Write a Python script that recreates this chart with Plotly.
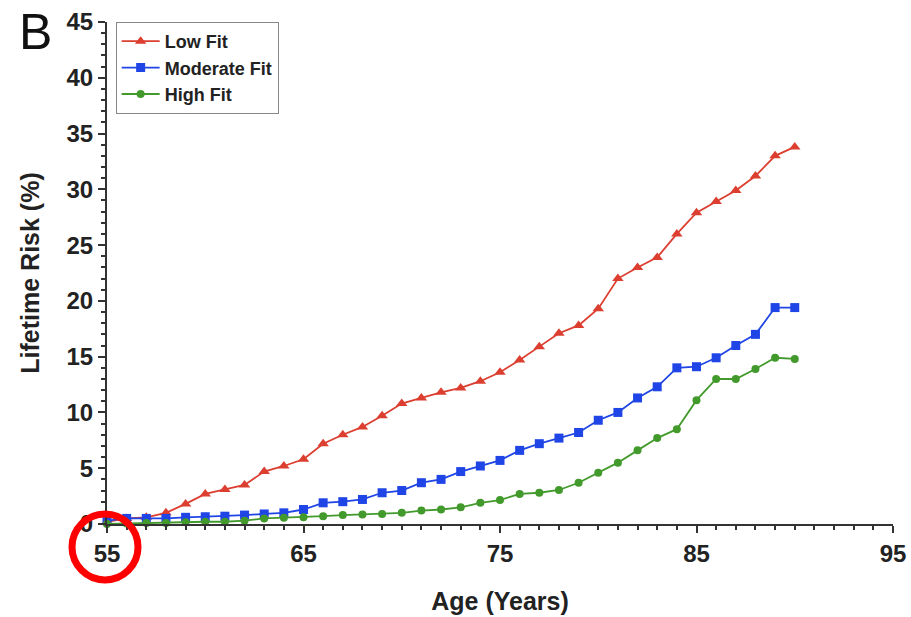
import plotly.graph_objects as go

ages = list(range(55, 91))
low_fit = [0.2, 0.5, 0.6, 1.0, 1.8, 2.7, 3.1, 3.5, 4.7, 5.2, 5.8, 7.2, 8.0, 8.7, 9.7, 10.8, 11.3, 11.8,
           12.2, 12.8, 13.6, 14.7, 15.9, 17.1, 17.8, 19.3, 22.0, 23.0, 23.9, 26.0, 27.9, 28.9, 29.9,
           31.2, 33.0, 33.8]
moderate_fit = [0.3, 0.5, 0.5, 0.5, 0.6, 0.65, 0.7, 0.8, 0.9, 1.0, 1.3, 1.9, 2.0, 2.2, 2.8, 3.0, 3.7,
                4.0, 4.7, 5.2, 5.7, 6.6, 7.2, 7.7, 8.2, 9.3, 10.0, 11.3, 12.3, 14.0, 14.1, 14.9, 16.0,
                17.0, 19.4, 19.4]
high_fit = [0.0, 0.05, 0.1, 0.1, 0.15, 0.2, 0.2, 0.3, 0.5, 0.55, 0.6, 0.7, 0.8, 0.85, 0.9, 1.0, 1.2,
            1.3, 1.5, 1.9, 2.15, 2.7, 2.8, 3.05, 3.7, 4.6, 5.5, 6.6, 7.7, 8.5, 11.1, 13.0, 13.0, 13.9,
            14.9, 14.8]

series = [
    ("Low Fit", low_fit, "#dc3e30", "triangle-up", 10),
    ("Moderate Fit", moderate_fit, "#1f45e6", "square", 9),
    ("High Fit", high_fit, "#439a2c", "circle", 8),
]

FONT = "Liberation Sans, Arial, sans-serif"

fig = go.Figure()
for name, vals, color, sym, size in series:
    fig.add_trace(go.Scatter(
        x=ages, y=vals, name=name, mode="lines+markers",
        line=dict(color=color, width=1.8),
        marker=dict(symbol=sym, size=size, color=color),
        cliponaxis=False,
    ))

fig.update_layout(
    width=911, height=617,
    margin=dict(l=107, r=18, t=22, b=93),
    paper_bgcolor="white", plot_bgcolor="white",
    font=dict(family=FONT, color="#222222"),
    showlegend=True,
    legend=dict(
        x=0.011, y=1.0, xanchor="left", yanchor="top",
        bordercolor="#888888", borderwidth=1, bgcolor="white",
        font=dict(size=18, weight="bold", color="#222222"),
        tracegroupgap=0, itemwidth=38,
    ),
    xaxis=dict(
        range=[55, 95], tickmode="linear", tick0=55, dtick=10, automargin=False,
        showgrid=False, zeroline=False, showline=True, linecolor="#333333", linewidth=2,
        ticks="outside", ticklen=7, tickwidth=1.5, tickcolor="#333333",
        minor=dict(dtick=1, tick0=55, ticks="outside", ticklen=4, tickwidth=1.5, tickcolor="#333333"),
        tickfont=dict(size=24, weight="bold", color="#222222"),
        title=dict(text="Age (Years)", font=dict(size=25, weight="bold", color="#222222"), standoff=27),
    ),
    yaxis=dict(
        range=[0, 45], tickmode="linear", tick0=0, dtick=5, automargin=False,
        showgrid=False, zeroline=False, showline=True, linecolor="#333333", linewidth=2,
        ticks="outside", ticklen=7, tickwidth=1.5, tickcolor="#333333",
        minor=dict(dtick=1, tick0=0, ticks="outside", ticklen=4, tickwidth=1.5, tickcolor="#333333"),
        tickfont=dict(size=24, weight="bold", color="#222222"),
        title=dict(text="Lifetime Risk (%)", font=dict(size=25, weight="bold", color="#222222"), standoff=20),
    ),
    annotations=[
        dict(text="B", xref="paper", yref="paper", x=-0.115, y=1.04, xanchor="left", yanchor="top",
             showarrow=False, font=dict(size=50, family=FONT, color="#111111")),
    ],
    shapes=[
        dict(type="circle", xref="paper", yref="paper", xsizemode="pixel", ysizemode="pixel",
             xanchor=0, yanchor=0, x0=-35, x1=31, y0=-56, y1=10,
             line=dict(color="#ff0000", width=7), fillcolor="rgba(0,0,0,0)", layer="above"),
    ],
)

fig.write_html("out.html")
